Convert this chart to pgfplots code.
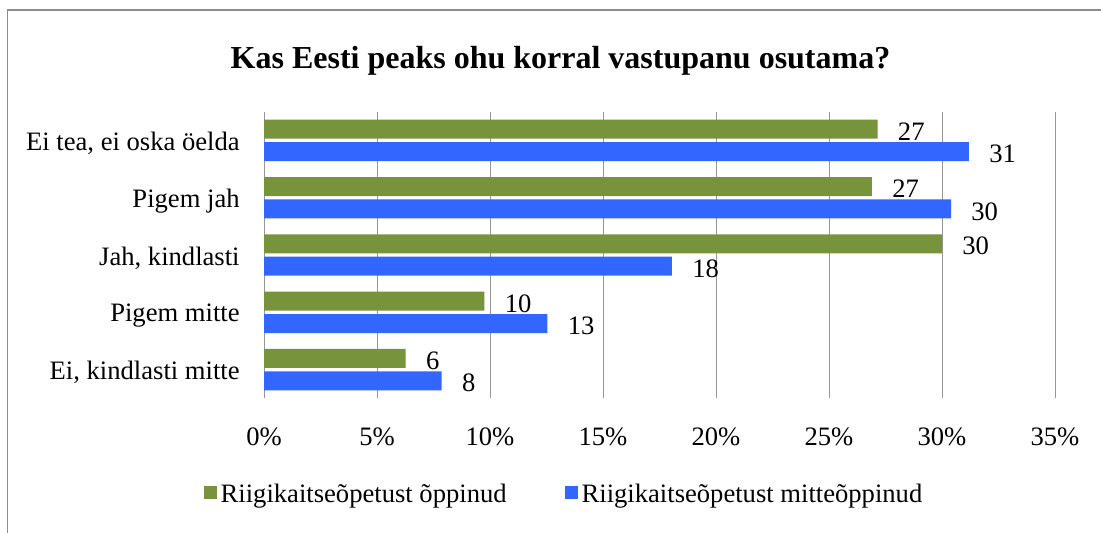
\documentclass[border=0pt]{standalone}
\usepackage{pgfplots}
\pgfplotsset{compat=1.18}
\usepackage{fontspec}
\setmainfont{Liberation Serif}

\definecolor{ogreen}{RGB}{119,147,60}
\definecolor{oblue}{RGB}{51,102,255}
\definecolor{framegray}{RGB}{140,140,140}
\definecolor{gridgray}{RGB}{150,150,150}

\newcommand{\lblfont}{\fontsize{13.3}{16}\selectfont}

\begin{document}
\begin{tikzpicture}
\path[use as bounding box] (0,0) rectangle (550.5pt,266.5pt);
\draw[framegray, line width=0.75pt] (3.8pt,-1pt) -- (3.8pt,261.5pt) -- (552pt,261.5pt);
\node[font=\fontsize{16}{19}\selectfont\bfseries] at (280.25pt,236pt) {Kas Eesti peaks ohu korral vastupanu osutama?};

\begin{axis}[
  at={(132pt,67.35pt)}, anchor=south west,
  scale only axis, width=395.5pt, height=143.25pt,
  xbar, bar width=9.5pt,
  xmin=0, xmax=35, ymin=-0.5, ymax=4.5,
  xtick={0,5,...,35},
  xticklabels={0\%,5\%,10\%,15\%,20\%,25\%,30\%,35\%},
  ytick={0,1,2,3,4},
  yticklabels={{Ei, kindlasti mitte},{Pigem mitte},{Jah, kindlasti},{Pigem jah},{Ei tea, ei oska öelda}},
  major tick length=0pt,
  xmajorgrids,
  grid style={gridgray, line width=0.5pt},
  axis line style={draw=none},
  /pgf/number format/assume math mode=true,
  tick label style={font=\lblfont},
  xticklabel style={anchor=base, inner sep=0pt, yshift=-23.5pt},
  yticklabel style={anchor=east, inner sep=0pt, xshift=-12pt, yshift=-1.5pt},
  point meta=x,
  nodes near coords={\pgfmathprintnumber[fixed,precision=0]{\pgfplotspointmeta}},
  every node near coord/.append style={anchor=west, inner sep=0pt, xshift=10pt, yshift=-1.2pt, font=\lblfont, text=black},
  legend columns=2,
  legend style={at={(0.3805,-0.335)}, anchor=center, draw=none, font=\lblfont,
    /tikz/every even column/.append style={column sep=27pt}},
  legend image code/.code={\fill[#1] (0pt,-2.5pt) rectangle (6.5pt,4pt);},
]
\addplot[fill=ogreen, draw=none, bar shift=5.6pt] coordinates {
  (27.15,4) (26.9,3) (30.0,2) (9.75,1) (6.27,0)
};
\addlegendentry{Riigikaitseõpetust õppinud}
\addplot[fill=oblue, draw=none, bar shift=-5.6pt] coordinates {
  (31.19,4) (30.4,3) (18.05,2) (12.54,1) (7.86,0)
};
\addlegendentry{Riigikaitseõpetust mitteõppinud}
\end{axis}
\end{tikzpicture}
\end{document}
